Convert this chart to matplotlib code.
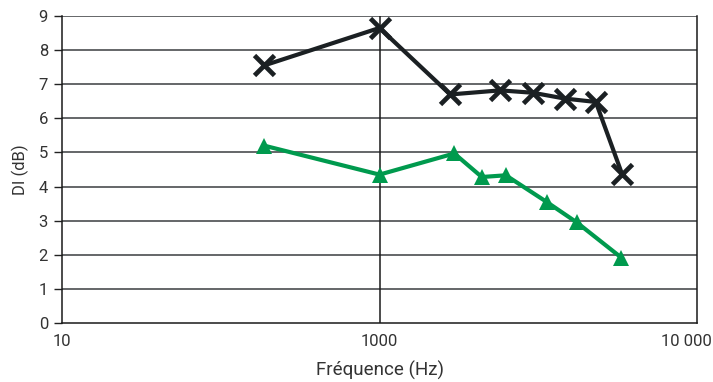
import matplotlib
matplotlib.use("Agg")
import matplotlib.pyplot as plt
from matplotlib.transforms import ScaledTranslation

plt.rcParams['font.family'] = ['Roboto', 'DejaVu Sans']

freq_black = [433, 1000, 1670, 2400, 3040, 3830, 4800, 5800]
di_black = [7.55, 8.65, 6.7, 6.82, 6.75, 6.58, 6.48, 4.38]
freq_green = [433, 1000, 1720, 2100, 2500, 3360, 4180, 5770]
di_green = [5.2, 4.35, 4.97, 4.28, 4.33, 3.55, 2.95, 1.92]

xticks = [100, 1000, 10000]
xtick_labels = ["10", "1000", "10 000"]
yticks = list(range(0, 10))

fig = plt.figure(figsize=(7.13, 3.82), dpi=100)
ax = fig.add_axes([62/713, 1-323/382, (697-62)/713, (323-16)/382])

ax.set_xscale('log')
ax.set_xlim(100, 10000)
ax.set_ylim(0, 9)

for y in yticks[1:]:
    ax.axhline(y, color='#3a3d40', lw=1.1, zorder=1)
ax.axvline(1000, color='#1a1a1a', lw=1.1, zorder=1)

ax.plot(freq_black, di_black, color='#1b2023', lw=3, marker='x', ms=14, mew=3.4, zorder=3)
ax.plot(freq_green, di_green, color='#009a4e', lw=3, marker='^', ms=12, mew=0, zorder=3)

ax.set_xticks(xticks)
ax.set_xticklabels(xtick_labels)
ax.xaxis.set_minor_locator(matplotlib.ticker.NullLocator())
ax.set_yticks(yticks)
ax.tick_params(axis='x', length=0, pad=8, labelsize=12, labelcolor='#333333')
ax.tick_params(axis='y', length=6, width=1, direction='out', labelsize=12, colors='#222222', labelcolor='#333333', pad=4)

last = ax.get_xticklabels()[-1]
last.set_horizontalalignment('right')
last.set_transform(last.get_transform() + ScaledTranslation(15/100, 0, fig.dpi_scale_trans))

for s in ['left', 'bottom', 'right']:
    ax.spines[s].set_color('#1a1a1a')
    ax.spines[s].set_linewidth(1.1)
ax.spines['top'].set_visible(False)

ax.set_xlabel('Fréquence (Hz)', fontsize=13.5, color='#333333', labelpad=8.5)
ax.set_ylabel('DI (dB)', fontsize=12, color='#333333', labelpad=7)

fig.savefig('out.png', dpi=100)
